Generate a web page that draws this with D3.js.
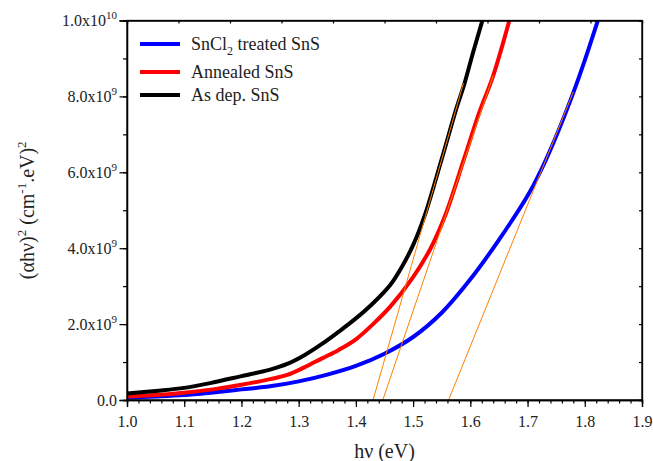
<!DOCTYPE html>
<html>
<head>
<meta charset="utf-8">
<script src="https://cdn.jsdelivr.net/npm/d3@7"></script>
<style>
  body { margin: 0; background: #fff; }
  text { font-family: "Liberation Serif", "Times New Roman", serif; fill: #222; }
</style>
</head>
<body>
<div id="chart"></div>
<script>
// photon energy (eV) and (alpha h nu)^2 values (x1e9)
var asDepX   = [1.00, 1.05, 1.10, 1.15, 1.20, 1.25, 1.28, 1.31, 1.34, 1.37, 1.40, 1.43, 1.46, 1.48, 1.50, 1.52, 1.55, 1.575, 1.59, 1.605, 1.625];
var asDepY   = [0.17, 0.24, 0.32, 0.46, 0.63, 0.80, 0.95, 1.18, 1.47, 1.80, 2.15, 2.55, 3.03, 3.50, 4.08, 4.85, 6.35, 7.65, 8.35, 9.17, 10.2];

var annealX  = [1.00, 1.05, 1.10, 1.15, 1.20, 1.25, 1.28, 1.31, 1.34, 1.37, 1.40, 1.43, 1.46, 1.50, 1.53, 1.555, 1.59, 1.615, 1.64, 1.67];
var annealY  = [0.09, 0.13, 0.19, 0.28, 0.40, 0.55, 0.66, 0.86, 1.09, 1.32, 1.60, 2.00, 2.46, 3.24, 3.98, 4.82, 6.40, 7.55, 8.55, 10.1];

var sncl2X   = [1.00, 1.05, 1.10, 1.15, 1.20, 1.25, 1.30, 1.35, 1.40, 1.45, 1.50, 1.55, 1.60, 1.65, 1.70, 1.725, 1.75, 1.78, 1.80, 1.825];
var sncl2Y   = [0.06, 0.09, 0.13, 0.20, 0.28, 0.36, 0.49, 0.67, 0.90, 1.22, 1.66, 2.30, 3.18, 4.22, 5.38, 6.10, 6.95, 8.10, 8.95, 10.1];

// linear fits (Tauc extrapolation): x-intercept and upper end point
var fitEg    = [1.430, 1.447, 1.562];          // as dep., annealed, SnCl2
var fitEndX  = [1.588, 1.640, 1.780];
var fitEndY  = [8.35, 8.55, 8.12];

var legendNames = ["SnCl|2| treated SnS", "Annealed SnS", "As dep. SnS"];
var legendColors = ["#0000ff", "#ff0000", "#000000"];

var xTicks = [1.0, 1.1, 1.2, 1.3, 1.4, 1.5, 1.6, 1.7, 1.8, 1.9];
var yTicks = [0, 2e9, 4e9, 6e9, 8e9, 1e10];

// kích thước
var W = 653, H = 461;
var margin = { top: 20.5, right: 11, bottom: 61, left: 127 },
  width = W - margin.left - margin.right,
  height = H - margin.top - margin.bottom;

var svg = d3.select("#chart")
  .append("svg")
  .attr("width", W)
  .attr("height", H);

var g = svg.append("g")
  .attr("transform", "translate(" + margin.left + "," + margin.top + ")");

var x = d3.scaleLinear().domain([1.0, 1.9]).range([0, width]);
var y = d3.scaleLinear().domain([0, 1e10]).range([height, 0]);

g.append("clipPath").attr("id", "clip")
  .append("rect").attr("width", width).attr("height", height);

// ---- curves
function series(xs, ys) {
  return xs.map(function(v, i) { return { x: v, y: ys[i] * 1e9 }; });
}
var line = d3.line()
  .x(function(d) { return x(d.x); })
  .y(function(d) { return y(d.y); })
  .curve(d3.curveCatmullRom.alpha(0.5));

var curves = [
  { data: series(sncl2X, sncl2Y), color: "#0000ff" },
  { data: series(annealX, annealY), color: "#ff0000" },
  { data: series(asDepX, asDepY), color: "#000000" }
];

var plot = g.append("g").attr("clip-path", "url(#clip)");

plot.selectAll(".curve")
  .data(curves)
  .enter().append("path")
  .attr("class", "curve")
  .attr("d", function(d) { return line(d.data); })
  .attr("fill", "none")
  .attr("stroke", function(d) { return d.color; })
  .attr("stroke-width", 4)
  .attr("stroke-linejoin", "round");

// các đường fit màu cam
plot.selectAll(".fit")
  .data(fitEg)
  .enter().append("line")
  .attr("class", "fit")
  .attr("x1", function(d) { return x(d); })
  .attr("y1", y(0))
  .attr("x2", function(d, i) { return x(fitEndX[i]); })
  .attr("y2", function(d, i) { return y(fitEndY[i] * 1e9); })
  .attr("stroke", "#ff8000")
  .attr("stroke-width", 1);

// ---- axes
var xAxis = g.append("g")
  .attr("transform", "translate(0," + height + ")")
  .call(d3.axisBottom(x).tickValues(d3.range(0, 46).map(function(i) { return 1.0 + i * 0.02; }))
    .tickSize(3.5).tickFormat(""));
xAxis.append("g")
  .call(d3.axisBottom(x).tickValues(xTicks).tickSize(7).tickFormat(d3.format(".1f")));

var yAxis = g.append("g")
  .call(d3.axisLeft(y).tickValues(d3.range(0, 11).map(function(i) { return i * 1e9; }))
    .tickSize(4).tickFormat(""));
yAxis.append("g")
  .call(d3.axisLeft(y).tickValues(yTicks).tickSize(7.5).tickFormat(""));

// right & top: small inward ticks
g.append("g")
  .attr("transform", "translate(" + width + ",0)")
  .call(d3.axisLeft(y).tickValues(d3.range(0, 11).map(function(i) { return i * 1e9; }))
    .tickSize(3).tickFormat(""));
var xTop = d3.scaleLinear().domain([0, 10]).range([0, width]);
g.append("g")
  .call(d3.axisBottom(xTop).ticks(10).tickSize(3).tickFormat(""));

g.selectAll(".domain").attr("stroke", "#000").attr("stroke-width", 1.3);
g.selectAll(".tick line").attr("stroke", "#000").attr("stroke-width", 1.2);
g.selectAll(".tick text")
  .attr("font-family", "Liberation Serif, serif")
  .attr("font-size", "16px")
  .attr("fill", "#222");
xAxis.selectAll(".tick text").attr("dy", "1.05em");

// frame
g.append("rect")
  .attr("width", width).attr("height", height)
  .attr("fill", "none").attr("stroke", "#000").attr("stroke-width", 1.3);

// y tick labels with superscripts
var yLab = g.selectAll(".ylab")
  .data(yTicks)
  .enter().append("text")
  .attr("class", "ylab")
  .attr("x", -10)
  .attr("y", function(d) { return y(d) + 5.5; })
  .attr("text-anchor", "end")
  .attr("font-size", "16px");
yLab.each(function(d) {
  var t = d3.select(this);
  if (d === 0) { t.text("0.0"); return; }
  var e = Math.floor(Math.log10(d) + 1e-9);
  var m = d / Math.pow(10, e);
  t.append("tspan").text(m.toFixed(1) + "x10");
  t.append("tspan").attr("font-size", "11px").attr("dy", "-7").text(e);
});

// axis titles
svg.append("text")
  .attr("x", margin.left + width / 2)
  .attr("y", 458)
  .attr("text-anchor", "middle")
  .attr("font-size", "20px")
  .text("h\u03bd (eV)");

var yTitle = svg.append("text")
  .attr("transform", "translate(34," + (margin.top + height / 2) + ") rotate(-90)")
  .attr("text-anchor", "middle")
  .attr("font-size", "20px");
yTitle.append("tspan").text("(\u03b1h\u03bd)");
yTitle.append("tspan").attr("font-size", "13px").attr("dy", -8).text("2");
yTitle.append("tspan").attr("dy", 8).text(" (cm");
yTitle.append("tspan").attr("font-size", "13px").attr("dy", -8).text("-1");
yTitle.append("tspan").attr("dy", 8).text(".eV)");
yTitle.append("tspan").attr("font-size", "13px").attr("dy", -8).text("2");

// legend
var legendY = [44, 72, 95];
var lg = svg.selectAll(".legend")
  .data(legendNames)
  .enter().append("g")
  .attr("class", "legend")
  .attr("transform", function(d, i) { return "translate(140," + legendY[i] + ")"; });
lg.append("line")
  .attr("x1", 0).attr("x2", 40)
  .attr("stroke", function(d, i) { return legendColors[i]; })
  .attr("stroke-width", 4);
lg.append("text")
  .attr("x", 51).attr("y", 6)
  .attr("font-size", "18px")
  .each(function(d) {
    var parts = d.split("|");
    var t = d3.select(this);
    t.append("tspan").text(parts[0]);
    if (parts.length > 1) {
      t.append("tspan").attr("font-size", "12px").attr("dy", 5).text(parts[1]);
      t.append("tspan").attr("dy", -5).text(parts[2]);
    }
  });
</script>
</body>
</html>
